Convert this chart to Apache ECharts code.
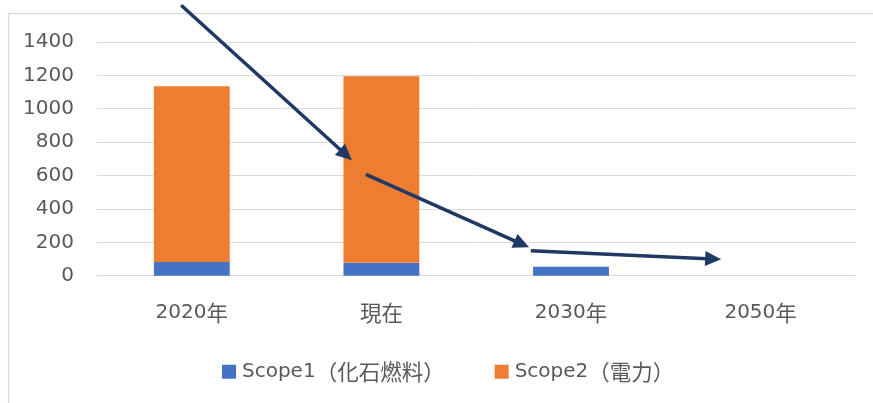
<!DOCTYPE html>
<html>
<head>
<meta charset="utf-8">
<script src="https://cdn.jsdelivr.net/npm/echarts@6/dist/echarts.min.js"></script>
<style>
  html, body { margin: 0; padding: 0; background: #ffffff; }
  #chart { width: 873px; height: 403px; }
</style>
</head>
<body>
<div id="chart"></div>
<script>
const categories = ['2020年', '現在', '2030年', '2050年'];
const scope1 = [82, 78, 54, 0];
const scope2 = [1052, 1117, 0, 0];
const seriesNames = ['Scope1（化石燃料）', 'Scope2（電力）'];
const yMin = 0, yMax = 1400, yStep = 200;
// arrow annotations: [start, tip] in (category position, value) units
const arrows = [
  [[-0.056, 1619], [0.844, 692]],
  [[0.918, 607], [1.779, 170]],
  [[1.788, 150], [2.792, 98]]
];

const LATIN = '"DejaVu Sans", "Noto Sans CJK JP", sans-serif';
const CJK = '"Noto Sans CJK JP", sans-serif';
const TXT = '#595959';
const chart = echarts.init(document.getElementById('chart'), null, { renderer: 'canvas' });

// split label into latin part and CJK part for mixed-size rich text
function splitRich(s) {
  let out = '';
  let cur = '', curType = null;
  for (const ch of s) {
    const t = /[\u0000-\u024f]/.test(ch) ? 'l' : 'c';
    if (curType !== null && t !== curType) { out += '{' + curType + '|' + cur + '}'; cur = ''; }
    cur += ch; curType = t;
  }
  if (cur) out += '{' + curType + '|' + cur + '}';
  return out;
}
const rich = {
  l: { fontFamily: LATIN, fontSize: 20, color: TXT },
  c: { fontFamily: CJK, fontSize: 21.5, color: TXT }
};

const option = {
  animation: false,
  backgroundColor: '#ffffff',
  textStyle: { fontFamily: LATIN },
  grid: { left: 97, right: 17.6, top: 41.9, bottom: 127.3, containLabel: false },
  legend: {
    left: 217, top: 356,
    itemWidth: 14, itemHeight: 14, itemGap: 50,
    icon: 'rect',
    formatter: function (n) { return splitRich(n); },
    textStyle: { color: TXT, fontSize: 20, fontFamily: LATIN, rich: rich, padding: [0, 0, 0, 1] },
    data: seriesNames
  },
  xAxis: [{
    type: 'category',
    data: categories,
    axisLine: { lineStyle: { color: '#d9d9d9', width: 1 } },
    axisTick: { show: false },
    axisLabel: {
      interval: 0, hideOverlap: false,
      color: TXT, fontSize: 20, fontFamily: LATIN, margin: 26,
      formatter: function (v) { return splitRich(v); }, rich: rich
    }
  }, {
    type: 'value', min: -0.5, max: 3.5, show: false
  }],
  yAxis: {
    type: 'value', min: yMin, max: yMax, interval: yStep,
    axisLine: { show: false },
    axisTick: { show: false },
    splitLine: { lineStyle: { color: '#d9d9d9', width: 1 } },
    axisLabel: { color: TXT, fontSize: 20, fontFamily: LATIN, margin: 23,
      formatter: function (v) { return String(v); } }
  },
  series: [{
    name: seriesNames[0], type: 'bar', stack: 'total', barWidth: '40%',
    itemStyle: { color: '#4472c4' }, data: scope1
  }, {
    name: seriesNames[1], type: 'bar', stack: 'total', barWidth: '40%',
    itemStyle: { color: '#ed7d31' }, data: scope2
  }]
};
chart.setOption(option);

function drawArrows() {
  const els = [{
    type: 'rect', silent: true, z: -10,
    shape: { x: 8.5, y: 13.5, width: 1000, height: 600 },
    style: { fill: 'none', stroke: '#d9d9d9', lineWidth: 1.3 }
  }];
  const color = '#1f3864';
  const headLen = 16, headHalf = 7.5;
  arrows.forEach(function (a) {
    const p0 = chart.convertToPixel({ xAxisIndex: 1, yAxisIndex: 0 }, a[0]);
    const p1 = chart.convertToPixel({ xAxisIndex: 1, yAxisIndex: 0 }, a[1]);
    const dx = p1[0] - p0[0], dy = p1[1] - p0[1];
    const len = Math.sqrt(dx * dx + dy * dy);
    const ux = dx / len, uy = dy / len;
    const bx = p1[0] - ux * headLen, by = p1[1] - uy * headLen;
    els.push({
      type: 'line', silent: true, z: 100,
      shape: { x1: p0[0], y1: p0[1], x2: bx + ux * 2, y2: by + uy * 2 },
      style: { stroke: color, lineWidth: 3.5 }
    });
    els.push({
      type: 'polygon', silent: true, z: 100,
      shape: { points: [
        [p1[0], p1[1]],
        [bx - uy * headHalf, by + ux * headHalf],
        [bx + uy * headHalf, by - ux * headHalf]
      ] },
      style: { fill: color }
    });
  });
  chart.setOption({ graphic: els });
}
drawArrows();
</script>
</body>
</html>
